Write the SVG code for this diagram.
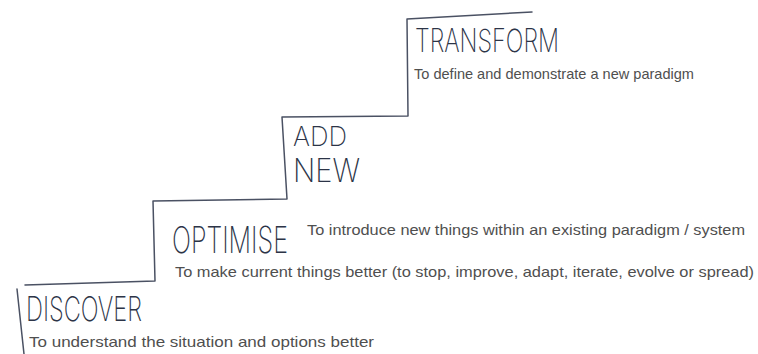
<svg xmlns="http://www.w3.org/2000/svg" width="758" height="354" viewBox="0 0 758 354">
<style>
.bg{fill:#ffffff}
.stair{fill:none;stroke:#4a5163;stroke-width:1.5;stroke-linecap:round;stroke-linejoin:round}
.hand{font-family:Inter,"Open Sans","DejaVu Sans",sans-serif;font-weight:200;fill:#2c3447}
.desc{font-family:"Liberation Sans",Arial,sans-serif;font-size:14.5px;fill:#4f4f4f}
</style>
<rect class="bg" x="0" y="0" width="758" height="354"/>
<g id="connectors">
<path class="stair" d="M24,354 L17,289"/>
<path class="stair" d="M25,285 L155,281 L153,201 L287,199 L282,117 L408,116 L407,19 L532,12"/>
</g>
<g id="discover">
<text class="hand" x="26" y="321" font-size="34" textLength="116" lengthAdjust="spacingAndGlyphs">DISCOVER</text>
<text class="desc" x="29" y="347" textLength="345" lengthAdjust="spacingAndGlyphs">To understand the situation and options better</text>
</g>
<g id="optimise">
<text class="hand" x="172" y="253" font-size="37" textLength="116" lengthAdjust="spacingAndGlyphs">OPTIMISE</text>
<text class="desc" x="175" y="277" textLength="579" lengthAdjust="spacingAndGlyphs">To make current things better (to stop, improve, adapt, iterate, evolve or spread)</text>
</g>
<g id="addnew">
<text class="hand" x="293" y="146" font-size="27" textLength="54" lengthAdjust="spacingAndGlyphs">ADD</text>
<text class="hand" x="293" y="182" font-size="32" textLength="67" lengthAdjust="spacingAndGlyphs">NEW</text>
<text class="desc" x="307" y="235" textLength="438" lengthAdjust="spacingAndGlyphs">To introduce new things within an existing paradigm / system</text>
</g>
<g id="transform">
<text class="hand" x="415" y="52" font-size="32" textLength="144" lengthAdjust="spacingAndGlyphs">TRANSFORM</text>
<text class="desc" x="414" y="79" textLength="280" lengthAdjust="spacingAndGlyphs">To define and demonstrate a new paradigm</text>
</g>
</svg>
